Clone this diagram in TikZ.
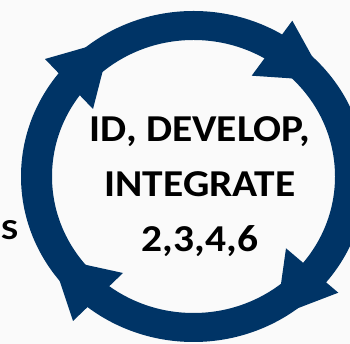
\documentclass[tikz,border=0pt]{standalone}
\usepackage{fontspec}
\setmainfont{Carlito}
\usepackage{tikz}
\usetikzlibrary{calc}
\definecolor{cyclenavy}{RGB}{0,52,102}
\tikzset{barb/.style={fill=cyclenavy}}

\begin{document}
\begin{tikzpicture}[x=1pt,y=1pt]
			%%%%% START %%%%%
			\useasboundingbox[fill=white!98!black] (0, 0) rectangle (350, 344);
			
			% ring
			\fill[cyclenavy, even odd rule] (193.5, 167.5) ellipse (172.5 and 165.5) (193.5, 167.5) ellipse (141.5 and 136.5);
			
			% heads
			\fill[barb] (292.3, 323.3) -- (325.5, 263.3) -- (251.7, 268.3) -- cycle;
			\fill[barb] (338.3, 51.3) -- (276.4, 27.6) -- (286, 95.7) -- cycle;
			\fill[barb] (73, 23) -- (51.8, 86.6) -- (123, 71) -- cycle;
			\fill[barb] (45, 285) -- (110.6, 303.8) -- (93, 235) -- cycle;
			
			\node[font=\bfseries\fontsize{38}{55}\selectfont, align=center, xscale=1.09, anchor=base] (steps) at (200, 92) {ID, DEVELOP,\\INTEGRATE\\2,3,4,6};
			
			\node[font=\bfseries\fontsize{29}{34}\selectfont, xscale=1.25, inner sep=0pt, anchor=base west] (cut) at (1, 104.5) {S};
			%%%%% END %%%%%
		\end{tikzpicture}
\end{document}
